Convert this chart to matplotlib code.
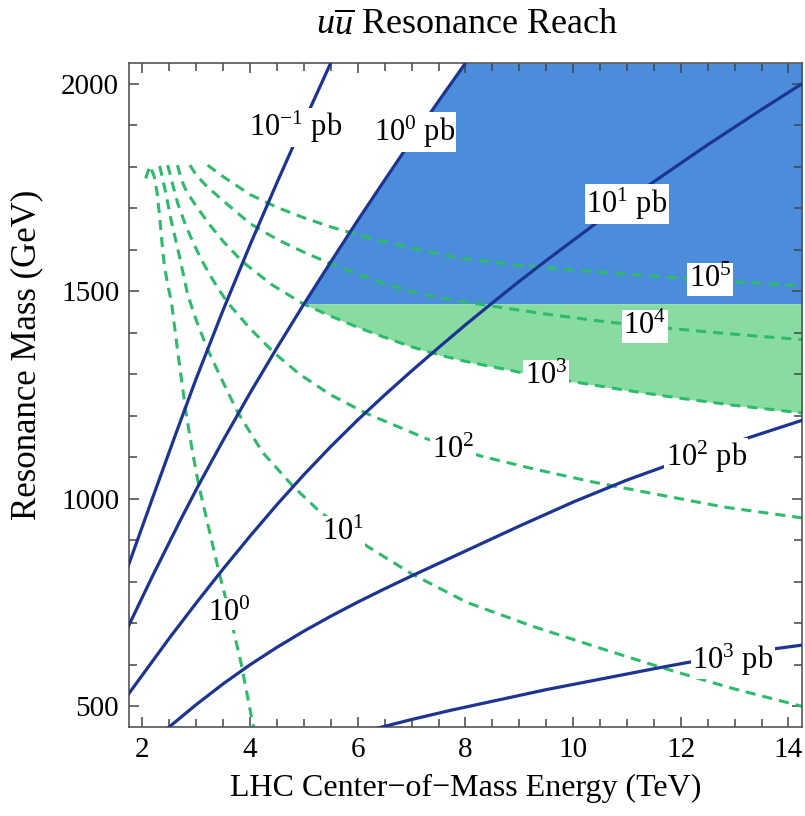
import numpy as np
import matplotlib.pyplot as plt
from matplotlib.ticker import MultipleLocator

# ===================== 1. data =====================
# solid contours: u-ubar resonance cross section (pb), energy in TeV, mass in GeV
xs_m1_energy = [1.70, 2.20, 2.63, 3.00, 3.50, 4.00, 4.50, 5.00, 5.55]
xs_m1_mass = [825, 1006, 1160, 1290, 1455, 1612, 1762, 1908, 2065]

xs_0_energy = [1.70, 2.20, 2.70, 3.04, 3.50, 4.00, 4.50, 4.98, 5.50, 6.00, 6.50, 7.00, 7.50, 8.10]
xs_0_mass = [682, 817, 947, 1032, 1141, 1255, 1364, 1465, 1571, 1671, 1768, 1864, 1958, 2068]

xs_1_energy = [1.70, 2.50, 3.00, 3.50, 4.00, 4.50, 5.00, 5.50, 6.00, 6.50, 7.00, 7.50, 8.00,
               8.50, 9.00, 9.50, 10.50, 11.50, 12.50, 13.50, 14.30]
xs_1_mass = [522, 664, 749, 831, 910, 986, 1058, 1126, 1190, 1250, 1308, 1364, 1419,
             1472, 1524, 1574, 1671, 1764, 1853, 1938, 2004]

xs_2_energy = [2.45, 3.00, 3.50, 4.00, 4.50, 5.00, 5.50, 6.00, 6.50, 7.00, 7.50, 8.00,
               9.00, 10.00, 11.00, 12.00, 13.00, 14.30]
xs_2_mass = [445, 504, 554, 600, 642, 681, 717, 751, 783, 814, 844, 874,
             934, 992, 1045, 1092, 1136, 1191]

xs_3_energy = [6.30, 7.00, 7.72, 9.50, 11.57, 12.15, 13.00, 13.77, 14.30]
xs_3_mass = [445, 468, 490, 540, 592, 606, 624, 639, 648]

# dashed contours: number of events
ev_0_energy = [2.06, 2.14, 2.22, 2.27, 2.32, 2.37, 2.41, 2.47, 2.54, 2.66, 2.80, 2.92, 3.04,
               3.42, 3.62, 3.84, 4.03, 4.08]
ev_0_mass = [1772, 1802, 1776, 1740, 1680, 1607, 1559, 1516, 1473, 1350, 1216, 1120, 1036,
             824, 723, 599, 471, 440]

ev_1_energy = [2.32, 2.41, 2.54, 2.69, 2.84, 3.00, 3.21, 3.50, 3.77, 4.23, 4.79, 5.30, 6.17,
               7.00, 8.03, 9.26, 10.50, 11.57, 12.90, 14.30]
ev_1_mass = [1802, 1751, 1667, 1583, 1492, 1430, 1360, 1280, 1208, 1112, 1031, 968, 886,
             819, 750, 692, 640, 596, 545, 498]

ev_2_energy = [2.47, 2.56, 2.66, 2.80, 2.95, 3.10, 3.25, 3.40, 3.58, 4.00, 4.46, 4.92, 5.50,
               6.17, 7.29, 8.28, 9.26, 10.38, 11.50, 12.80, 14.30]
ev_2_mass = [1804, 1758, 1710, 1660, 1615, 1575, 1540, 1508, 1473, 1410, 1350, 1300, 1250,
             1205, 1144, 1103, 1072, 1040, 1012, 980, 953]

ev_3_energy = [2.65, 2.72, 2.82, 3.00, 3.25, 3.50, 3.86, 4.40, 4.98, 5.50, 6.00, 6.50, 7.00,
               7.50, 8.00, 9.00, 10.00, 11.00, 12.00, 13.00, 14.30]
ev_3_mass = [1804, 1770, 1740, 1705, 1660, 1620, 1571, 1516, 1470, 1440, 1413, 1389, 1366,
             1347, 1331, 1305, 1282, 1261, 1242, 1225, 1206]

ev_4_energy = [2.88, 3.00, 3.20, 3.50, 4.00, 4.50, 5.00, 5.50, 6.00, 6.50, 7.00, 7.50, 8.00,
               8.60, 9.50, 10.50, 11.50, 12.50, 13.50, 14.30]
ev_4_mass = [1804, 1780, 1752, 1718, 1663, 1625, 1594, 1566, 1541, 1518, 1499, 1485, 1474,
             1462, 1445, 1428, 1414, 1402, 1391, 1383]

ev_5_energy = [3.21, 3.50, 4.00, 4.50, 5.00, 5.50, 6.00, 6.50, 7.00, 7.50, 8.00, 9.00, 10.00,
               11.00, 12.00, 13.00, 14.30]
ev_5_mass = [1804, 1776, 1733, 1702, 1677, 1655, 1636, 1619, 1604, 1590, 1578, 1562, 1551,
             1541, 1532, 1523, 1512]

# mass reach (GeV) that splits the shaded areas
reach_mass = 1470

# ===================== 2. style =====================
plt.rcParams["font.family"] = ["Liberation Serif", "DejaVu Serif"]
plt.rcParams["mathtext.fontset"] = "custom"
plt.rcParams["mathtext.rm"] = "Liberation Serif"
plt.rcParams["mathtext.it"] = "Liberation Serif:italic"

navy = "#1d3490"
dash_green = "#2dbb6b"
fill_blue = "#4b8ddb"
fill_green = "#88dca2"
dash_style = (0, (3.3, 2.3))

xmin, xmax = 1.75, 14.25
ymin, ymax = 450, 2050

fig = plt.figure(figsize=(8.05, 8.16), dpi=100)
ax = fig.add_axes([0.1602, 0.1091, 0.836, 0.8137])

# ===================== 3. shaded regions =====================
m_grid = np.linspace(reach_mass, ymax, 200)
ax.fill_betweenx(m_grid, np.interp(m_grid, xs_0_mass, xs_0_energy), xmax + 1,
                 color=fill_blue, lw=0, zorder=1)

e_corner = np.interp(reach_mass, xs_0_mass, xs_0_energy)
e_grid = np.linspace(e_corner, xmax + 1, 200)
ax.fill_between(e_grid, np.interp(e_grid, ev_3_energy, ev_3_mass), reach_mass,
                color=fill_green, lw=0, zorder=1)

# ===================== 4. contours =====================
for e, m in [(ev_0_energy, ev_0_mass), (ev_1_energy, ev_1_mass), (ev_2_energy, ev_2_mass),
             (ev_3_energy, ev_3_mass), (ev_4_energy, ev_4_mass), (ev_5_energy, ev_5_mass)]:
    ax.plot(e, m, color=dash_green, lw=2.2, ls=dash_style, zorder=2)

for e, m in [(xs_m1_energy, xs_m1_mass), (xs_0_energy, xs_0_mass), (xs_1_energy, xs_1_mass),
             (xs_2_energy, xs_2_mass), (xs_3_energy, xs_3_mass)]:
    ax.plot(e, m, color=navy, lw=2.3, zorder=3, solid_capstyle="butt")

# labels sitting on the contours (white box cuts the line)
labels = [
    (r"$10^{-1}$ pb", 4.85, 1895),
    (r"$10^{0}$ pb", 7.05, 1884),
    (r"$10^{1}$ pb", 11.0, 1710),
    (r"$10^{2}$ pb", 12.47, 1100),
    (r"$10^{3}$ pb", 12.97, 612),
    (r"$10^{0}$", 3.62, 723),
    (r"$10^{1}$", 5.72, 920),
    (r"$10^{2}$", 7.77, 1117),
    (r"$10^{3}$", 9.50, 1295),
    (r"$10^{4}$", 11.33, 1415),
    (r"$10^{5}$", 12.54, 1528),
]
for txt, x, y in labels:
    ax.text(x, y, txt, fontsize=22, ha="center", va="center", zorder=5,
            bbox=dict(facecolor="white", edgecolor="none", pad=1.0))

# ===================== 5. axes =====================
ax.set_xlim(xmin, xmax)
ax.set_ylim(ymin, ymax)
ax.xaxis.set_major_locator(MultipleLocator(2))
ax.xaxis.set_minor_locator(MultipleLocator(0.5))
ax.yaxis.set_major_locator(MultipleLocator(500))
ax.yaxis.set_minor_locator(MultipleLocator(100))
ax.tick_params(which="both", direction="in", top=True, right=True, color="#444444", width=1.1)
ax.tick_params(which="major", length=7, labelsize=21, pad=7)
ax.tick_params(which="minor", length=6)
for side in ax.spines.values():
    side.set_color("#555555")
    side.set_linewidth(1.2)

ax.set_xlabel("LHC Center\u2212of\u2212Mass Energy (TeV)", fontsize=23, labelpad=8)
ax.set_ylabel("Resonance Mass (GeV)", fontsize=25)
ax.yaxis.set_label_coords(-0.128, 0.56)
fig.text(0.5802, 0.968, r"$u\overline{u}$ Resonance Reach", fontsize=26, ha="center", va="center")

plt.savefig("out.png", dpi=100)
